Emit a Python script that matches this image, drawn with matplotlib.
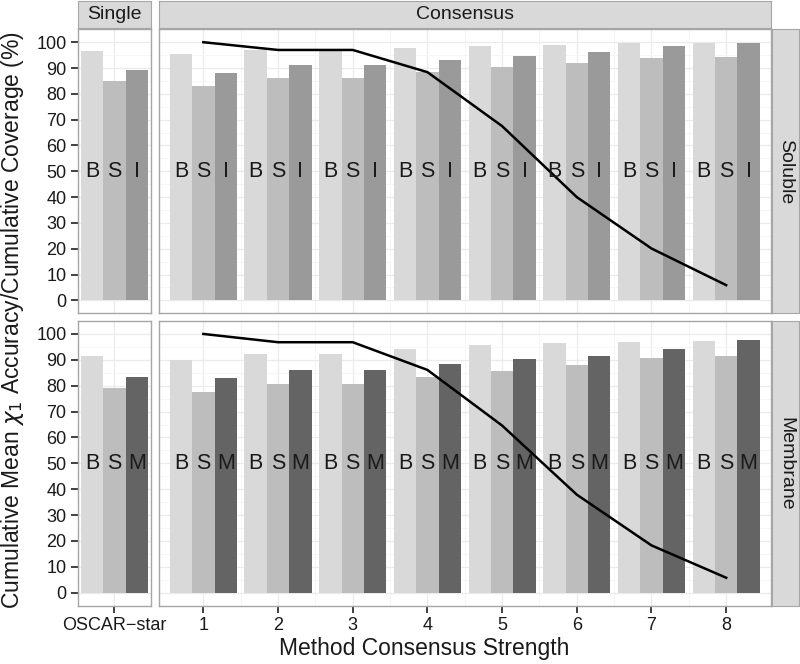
import numpy as np
import matplotlib
matplotlib.use("Agg")
import matplotlib.pyplot as plt

plt.rcParams["font.family"] = ["Liberation Sans", "DejaVu Sans"]
plt.rcParams["mathtext.fontset"] = "dejavusans"

# consensus strength levels
strength = [1, 2, 3, 4, 5, 6, 7, 8]

# Soluble: B / S / I accuracy, single method (OSCAR-star) and consensus
sol_single = [96.6, 85.0, 89.4]
sol_B = [95.6, 97.1, 96.9, 97.9, 98.6, 99.0, 99.5, 99.5]
sol_S = [83.0, 86.1, 86.1, 88.3, 90.5, 91.9, 93.8, 94.4]
sol_I = [87.9, 91.2, 91.2, 93.0, 94.7, 96.1, 98.4, 99.5]
sol_cov = [100.0, 97.0, 97.0, 88.4, 67.5, 40.0, 20.1, 5.9]

# Membrane: B / S / M accuracy
mem_single = [91.5, 79.3, 83.5]
mem_B = [90.1, 92.4, 92.4, 94.2, 95.9, 96.4, 97.0, 97.4]
mem_S = [77.5, 80.7, 80.7, 83.2, 85.7, 88.0, 90.6, 91.5]
mem_M = [82.9, 86.2, 86.2, 88.3, 90.2, 91.6, 94.3, 97.7]
mem_cov = [100.0, 96.8, 96.8, 86.1, 64.6, 37.9, 18.3, 5.8]

W, H = 800, 664
fig = plt.figure(figsize=(W / 100, H / 100), dpi=100)


def box(x0, y0, x1, y1):
    # pixel box (top-left origin) -> figure fraction
    return [x0 / W, (H - y1) / H, (x1 - x0) / W, (y1 - y0) / H]


border = "#a6a6a6"
strip_fill = "#d9d9d9"
txt = "#1a1a1a"
colors_sol = ["#d9d9d9", "#bdbdbd", "#9a9a9a"]
colors_mem = ["#d9d9d9", "#bdbdbd", "#646464"]

x_single = (77.7, 151.0)
x_cons = (159.3, 771.0)
y_top = (29.3, 313.3)
y_bot = (321.0, 605.7)


def style(ax, xlim, xmaj, xmin, left, bottom):
    ax.set_xlim(*xlim)
    ax.set_ylim(-5, 105)
    ax.set_yticks(np.arange(0, 101, 10))
    ax.set_yticks(np.arange(5, 101, 10), minor=True)
    ax.set_xticks(xmaj)
    ax.set_xticks(xmin, minor=True)
    ax.grid(which="major", color="#ebebeb", lw=0.9)
    ax.grid(which="minor", color="#f5f5f5", lw=0.6)
    ax.set_axisbelow(True)
    for s in ax.spines.values():
        s.set_color(border)
        s.set_linewidth(1.0)
    ax.tick_params(which="minor", length=0)
    ax.tick_params(which="major", length=5, width=1.3, color="#333333",
                   labelsize=13, labelcolor=txt, pad=3)
    if not left:
        ax.tick_params(axis="y", which="major", length=0, labelleft=False)
    if not bottom:
        ax.tick_params(axis="x", which="major", length=0, labelbottom=False)


def draw_bars(ax, xs, vals_list, cols, letters):
    for k, (vals, c, lab) in enumerate(zip(vals_list, cols, letters)):
        pos = np.asarray(xs) + (k - 1) * 0.3
        ax.bar(pos, vals, width=0.3, color=c, zorder=2)
        for p in pos:
            ax.text(p, 50, lab, ha="center", va="center", fontsize=15.5,
                    color=txt, zorder=4)


rows = [
    (y_top, sol_single, [sol_B, sol_S, sol_I], sol_cov, colors_sol, "BSI", "Soluble", False),
    (y_bot, mem_single, [mem_B, mem_S, mem_M], mem_cov, colors_mem, "BSM", "Membrane", True),
]

for ypix, single, cons, cov, cols, letters, rname, bottom in rows:
    ax1 = fig.add_axes(box(x_single[0], ypix[0], x_single[1], ypix[1]))
    style(ax1, (0.51, 1.49), [1], [], True, bottom)
    draw_bars(ax1, [1], [[v] for v in single], cols, letters)
    if bottom:
        ax1.set_xticklabels(["OSCAR\u2212star"])

    ax2 = fig.add_axes(box(x_cons[0], ypix[0], x_cons[1], ypix[1]))
    style(ax2, (0.41, 8.6), strength, np.arange(1.5, 8.5, 1), False, bottom)
    draw_bars(ax2, strength, cons, cols, letters)
    ax2.plot(strength, cov, color="black", lw=1.8, zorder=3)

    # right strip
    sx = fig.add_axes(box(772.3, ypix[0], 799.0, ypix[1]))
    sx.set_xticks([]); sx.set_yticks([])
    sx.set_facecolor(strip_fill)
    for s in sx.spines.values():
        s.set_color(border)
    sx.text(0.5, 0.5, rname, rotation=-90, ha="center", va="center",
            fontsize=14, color=txt, transform=sx.transAxes)

# top strips
for (x0, x1), name in [(x_single, "Single"), (x_cons, "Consensus")]:
    sx = fig.add_axes(box(x0, 1.0, x1, 27.7))
    sx.set_xticks([]); sx.set_yticks([])
    sx.set_facecolor(strip_fill)
    for s in sx.spines.values():
        s.set_color(border)
    sx.text(0.5, 0.5, name, ha="center", va="center", fontsize=14,
            color=txt, transform=sx.transAxes)

fig.text(424 / W, 1 - 649 / H, "Method Consensus Strength", ha="center",
         va="center", fontsize=16.5, color=txt)
fig.text(13 / W, 1 - 320 / H,
         r"Cumulative Mean $\chi_1$ Accuracy/Cumulative Coverage (%)",
         rotation=90, ha="center", va="center", fontsize=16.5, color=txt)

fig.savefig("out.png", dpi=100)
